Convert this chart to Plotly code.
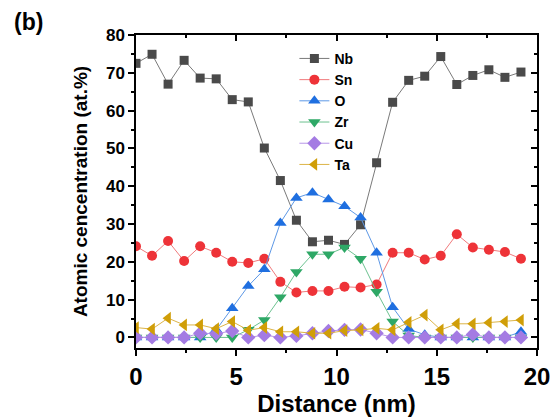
import plotly.graph_objects as go

distance = [0.0, 0.8, 1.6, 2.4, 3.2, 4.0, 4.8, 5.6, 6.4, 7.2, 8.0, 8.8, 9.6,
            10.4, 11.2, 12.0, 12.8, 13.6, 14.4, 15.2, 16.0, 16.8, 17.6, 18.4, 19.2]
nb = [72.5, 74.9, 67.0, 73.3, 68.6, 68.4, 62.9, 62.3, 50.1, 41.5, 31.0, 25.3, 25.7,
      24.6, 29.8, 46.2, 62.2, 68.0, 69.1, 74.3, 66.9, 69.3, 70.8, 68.8, 70.2]
sn = [24.1, 21.6, 25.5, 20.2, 24.1, 22.4, 20.0, 19.7, 20.8, 14.7, 11.9, 12.3, 12.3,
      13.4, 13.2, 14.0, 22.4, 22.4, 20.6, 21.6, 27.3, 23.8, 23.2, 22.6, 20.8]
o = [0.0, 0.0, 0.0, 0.0, 0.0, 2.0, 7.7, 13.6, 18.0, 30.3, 36.9, 38.3, 36.5,
     34.7, 31.7, 22.4, 8.0, 2.2, 0.7, 0.0, 0.0, 0.0, 0.0, 0.0, 1.5]
zr = [0.0, 0.0, 0.0, 0.0, 0.0, 0.0, 0.0, 2.0, 4.6, 10.6, 17.3, 22.0, 22.0,
      23.8, 20.8, 12.1, 4.2, 0.5, 0.0, 0.0, 0.0, 0.0, 0.0, 0.0, 0.0]
cu = [0.0, 0.0, 0.0, 0.0, 1.1, 1.0, 1.7, 0.0, 0.6, 0.0, 0.4, 1.1, 1.7,
      2.0, 2.1, 1.1, 0.0, 0.0, 0.0, 0.0, 0.0, 0.8, 0.0, 0.0, 0.0]
ta = [2.6, 2.2, 5.1, 3.3, 3.3, 2.3, 4.2, 1.9, 2.6, 1.5, 1.5, 1.1, 1.1,
      1.8, 2.0, 2.4, 2.0, 4.0, 5.9, 2.0, 3.6, 3.6, 3.9, 4.2, 4.6]

series = [
    ("Nb", nb, "square", "#4a4a4a", "#7a7a7a", 9),
    ("Sn", sn, "circle", "#ee3338", "#f07a7c", 10),
    ("O", o, "triangle-up", "#1f6fe0", "#5d98e6", 11),
    ("Zr", zr, "triangle-down", "#2ea866", "#6cc290", 11),
    ("Cu", cu, "diamond", "#a47be3", "#b896e8", 11),
    ("Ta", ta, "triangle-left", "#d09e08", "#dcb447", 11),
]

fig = go.Figure()
for name, vals, sym, mc, lc, size in series:
    fig.add_trace(go.Scatter(
        x=distance, y=vals, name=name, mode="lines+markers",
        line=dict(color=lc, width=1),
        marker=dict(symbol=sym, color=mc, size=size, line=dict(width=0)),
    ))

# invisible trace to host the mirrored frame axes
fig.add_trace(go.Scatter(x=[], y=[], xaxis="x2", yaxis="y2", showlegend=False,
                         hoverinfo="skip"))

font_family = "Arial, Liberation Sans, sans-serif"
XR = [0, 20]
YR = [-2.8, 80]

fig.update_layout(
    width=553, height=417,
    margin=dict(l=136, r=16, t=35, b=69, autoexpand=False),
    paper_bgcolor="white", plot_bgcolor="white",
    font=dict(family=font_family, color="black"),
    showlegend=True,
    legend=dict(x=0.395, y=0.975, xanchor="left", yanchor="top",
                bgcolor="rgba(0,0,0,0)", font=dict(size=14, weight="bold"),
                tracegroupgap=0),
    xaxis=dict(range=XR, dtick=5, tick0=0, showline=True, linecolor="black",
               linewidth=1.5, ticks="outside", ticklen=6, tickwidth=1.5,
               tickcolor="black", showgrid=False, zeroline=False, automargin=False,
               minor=dict(dtick=2.5, ticks="outside", ticklen=3, tickwidth=1.5,
                          tickcolor="black"),
               tickfont=dict(size=24, weight="bold"),
               title=dict(text="Distance (nm)", font=dict(size=24, weight="bold"),
                          standoff=9)),
    yaxis=dict(range=YR, dtick=10, tick0=0, showline=True, linecolor="black",
               linewidth=1.5, ticks="outside", ticklen=6, tickwidth=1.5,
               tickcolor="black", showgrid=False, zeroline=False, automargin=False,
               minor=dict(dtick=5, ticks="outside", ticklen=3, tickwidth=1.5,
                          tickcolor="black"),
               tickfont=dict(size=17, weight="bold"),
               title=dict(text="Atomic cencentration (at.%)",
                          font=dict(size=19, weight="bold"), standoff=13)),
    xaxis2=dict(range=XR, overlaying="x", side="top", anchor="y", dtick=5,
                tick0=0, showline=True, linecolor="black", linewidth=1.5,
                ticks="inside", ticklen=6, tickwidth=1.5, tickcolor="black",
                showticklabels=False, showgrid=False, zeroline=False,
                automargin=False,
                minor=dict(dtick=2.5, ticks="inside", ticklen=3, tickwidth=1.5,
                           tickcolor="black")),
    yaxis2=dict(range=YR, overlaying="y", side="right", anchor="x", dtick=10,
                tick0=0, showline=True, linecolor="black", linewidth=1.5,
                ticks="inside", ticklen=6, tickwidth=1.5, tickcolor="black",
                showticklabels=False, showgrid=False, zeroline=False,
                automargin=False,
                minor=dict(dtick=5, ticks="inside", ticklen=3, tickwidth=1.5,
                           tickcolor="black")),
    annotations=[dict(text="(b)", xref="paper", yref="paper", x=-0.31, y=1.04,
                      xanchor="left", yanchor="middle", showarrow=False,
                      font=dict(size=23, weight="bold", color="black"))],
)

fig.write_html("out.html")
